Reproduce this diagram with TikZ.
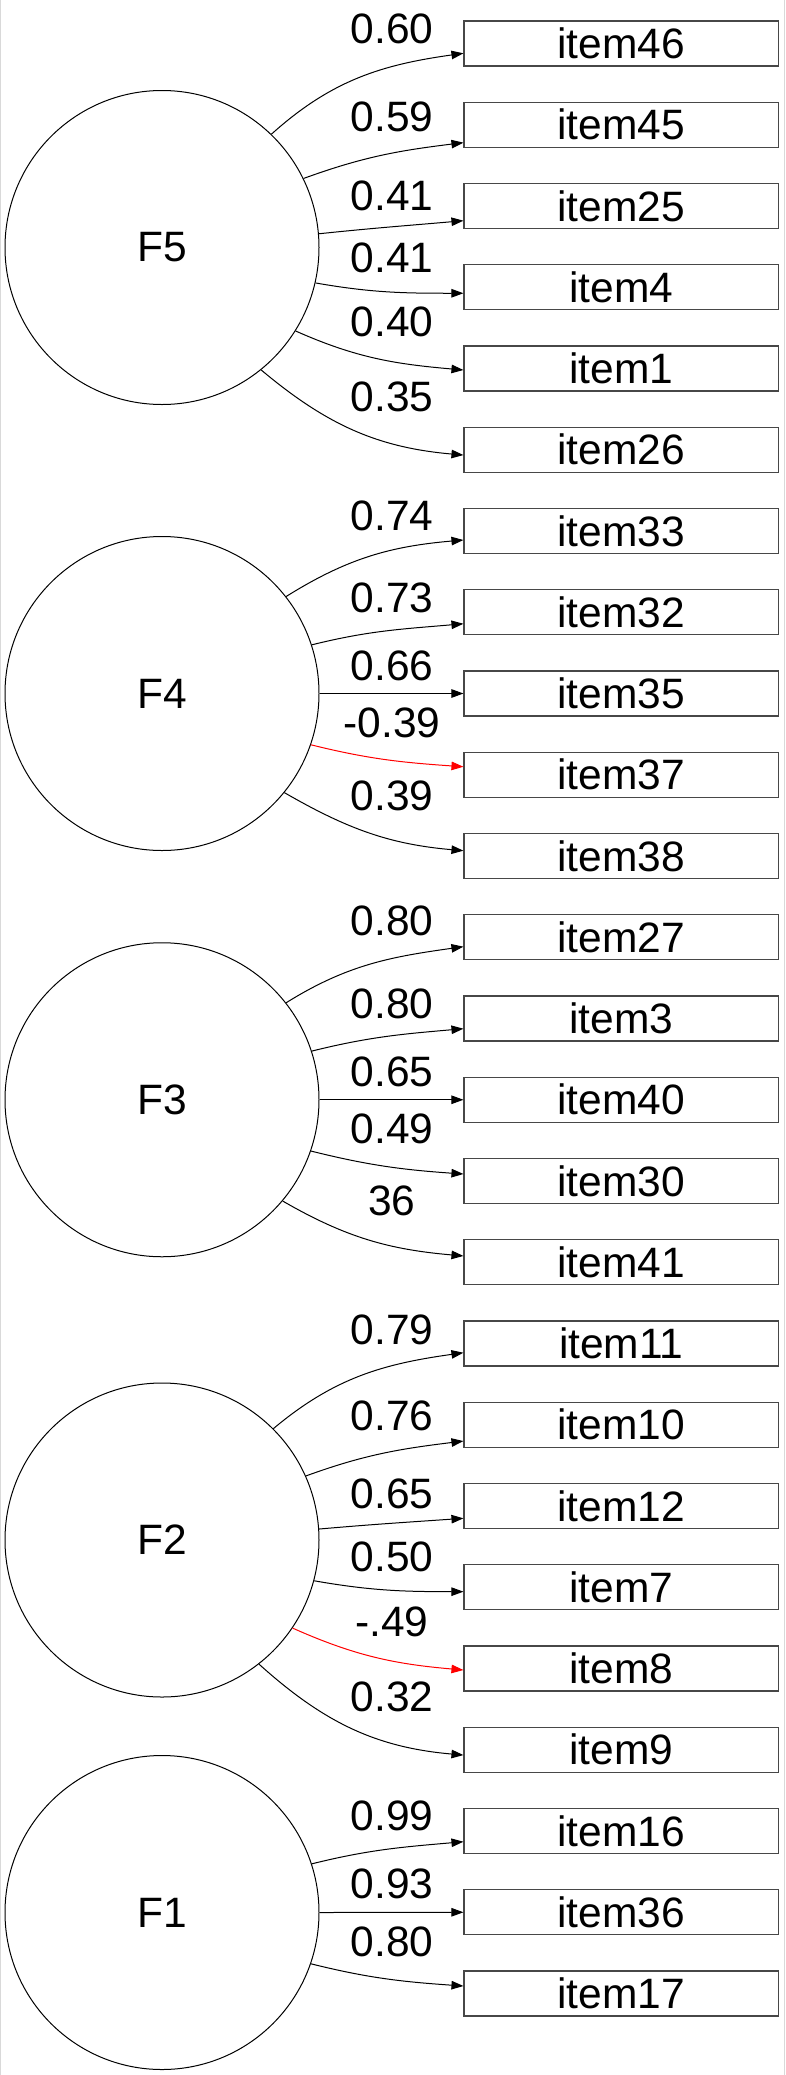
\documentclass[tikz,border=0pt]{standalone}
\usepackage{fontspec}
\setmainfont{Liberation Sans}
\usetikzlibrary{arrows.meta}

\begin{document}
\begin{tikzpicture}[x=1pt,y=1pt,>={Triangle[length=12pt,width=8.5pt]},
  font=\fontsize{42.5}{50}\selectfont,
  fac/.style={draw,circle,line width=1pt,minimum size=314pt,inner sep=0pt},
  itm/.style={draw=black!72,line width=1.1pt,minimum width=314.5pt,minimum height=45pt,inner sep=0pt},
  ld/.style={->,line width=1pt},
  neg/.style={->,line width=1pt,red},
  lbl/.style={anchor=base}]
  \useasboundingbox (0,0) rectangle (785,-2075);
  \draw[black!15,line width=1.2pt] (0.6,0) -- (0.6,-2075);
  \draw[black!15,line width=1.2pt] (784.4,0) -- (784.4,-2075);

  \node[fac] (F5) at (162,-247.5) {F5};
  \node[fac] (F4) at (162,-693.5) {F4};
  \node[fac] (F3) at (162,-1099.75) {F3};
  \node[fac] (F2) at (162,-1540) {F2};
  \node[fac] (F1) at (162,-1912.5) {F1};

  \node[itm] (i46) at (621.25,-43.5) {item46};
  \node[itm] (i45) at (621.25,-124.75) {item45};
  \node[itm] (i25) at (621.25,-206) {item25};
  \node[itm] (i4) at (621.25,-287.25) {item4};
  \node[itm] (i1) at (621.25,-368.5) {item1};
  \node[itm] (i26) at (621.25,-449.75) {item26};
  \node[itm] (i33) at (621.25,-531) {item33};
  \node[itm] (i32) at (621.25,-612.25) {item32};
  \node[itm] (i35) at (621.25,-693.5) {item35};
  \node[itm] (i37) at (621.25,-774.75) {item37};
  \node[itm] (i38) at (621.25,-856) {item38};
  \node[itm] (i27) at (621.25,-937.25) {item27};
  \node[itm] (i3) at (621.25,-1018.5) {item3};
  \node[itm] (i40) at (621.25,-1099.75) {item40};
  \node[itm] (i30) at (621.25,-1181) {item30};
  \node[itm] (i41) at (621.25,-1262.25) {item41};
  \node[itm] (i11) at (621.25,-1343.5) {item11};
  \node[itm] (i10) at (621.25,-1424.75) {item10};
  \node[itm] (i12) at (621.25,-1506) {item12};
  \node[itm] (i7) at (621.25,-1587.25) {item7};
  \node[itm] (i8) at (621.25,-1668.5) {item8};
  \node[itm] (i9) at (621.25,-1749.75) {item9};
  \node[itm] (i16) at (621.25,-1831) {item16};
  \node[itm] (i36) at (621.25,-1912.25) {item36};
  \node[itm] (i17) at (621.25,-1993.5) {item17};

  \draw[ld] (F5.46) to[out=42,in=188] ([yshift=-9.8pt]i46.west);
  \draw[ld] (F5.26) to[out=20,in=187] ([yshift=-17.9pt]i45.west);
  \draw[ld] (F5.5) to[out=6,in=185] ([yshift=-14.7pt]i25.west);
  \draw[ld] (F5.-13) to[out=-10,in=180] ([yshift=-6pt]i4.west);
  \draw[ld] (F5.-32) to[out=-24,in=175] ([yshift=-1.5pt]i1.west);
  \draw[ld] (F5.-51) to[out=-40,in=175] ([yshift=-5.3pt]i26.west);

  \draw[ld] (F4.38) to[out=32,in=185] ([yshift=-9pt]i33.west);
  \draw[ld] (F4.18) to[out=14,in=185] ([yshift=-11.5pt]i32.west);
  \draw[ld] (F4.0) -- (i35.west);
  \draw[neg] (F4.-19) to[out=-14,in=176] ([yshift=8pt]i37.west);
  \draw[ld] (F4.-39) to[out=-30,in=175] ([yshift=5.3pt]i38.west);

  \draw[ld] (F3.38) to[out=32,in=188] ([yshift=-9.4pt]i27.west);
  \draw[ld] (F3.18) to[out=14,in=185] ([yshift=-10.2pt]i3.west);
  \draw[ld] (F3.0) -- (i40.west);
  \draw[ld] (F3.-19) to[out=-14,in=176] ([yshift=7pt]i30.west);
  \draw[ld] (F3.-40) to[out=-30,in=175] ([yshift=6.3pt]i41.west);

  \draw[ld] (F2.45) to[out=40,in=188] ([yshift=-9.2pt]i11.west);
  \draw[ld] (F2.24) to[out=20,in=187] ([yshift=-16.3pt]i10.west);
  \draw[ld] (F2.4) to[out=5,in=184] ([yshift=-12.3pt]i12.west);
  \draw[ld] (F2.-15) to[out=-10,in=180] ([yshift=-4.4pt]i7.west);
  \draw[neg] (F2.-34) to[out=-24,in=175] ([yshift=-1.5pt]i8.west);
  \draw[ld] (F2.-52) to[out=-42,in=175] ([yshift=-5.3pt]i9.west);

  \draw[ld] (F1.18) to[out=14,in=185] ([yshift=-10.7pt]i16.west);
  \draw[ld] (F1.0) -- (i36.west);
  \draw[ld] (F1.-19) to[out=-14,in=176] ([yshift=7.5pt]i17.west);

  \node[lbl] (w46) at (392,-43.3) {0.60};
  \node[lbl] (w45) at (392,-131.7) {0.59};
  \node[lbl] (w25) at (392,-210.7) {0.41};
  \node[lbl] (w4) at (392,-272.7) {0.41};
  \node[lbl] (w1) at (392,-336.7) {0.40};
  \node[lbl] (w26) at (392,-411.7) {0.35};
  \node[lbl] (w33) at (392,-530.7) {0.74};
  \node[lbl] (w32) at (392,-612.7) {0.73};
  \node[lbl] (w35) at (392,-680.7) {0.66};
  \node[lbl] (w37) at (392,-737.3) {-0.39};
  \node[lbl] (w38) at (392,-810) {0.39};
  \node[lbl] (w27) at (392,-935.7) {0.80};
  \node[lbl] (w3) at (392,-1018.3) {0.80};
  \node[lbl] (w40) at (392,-1086) {0.65};
  \node[lbl] (w30) at (392,-1143.3) {0.49};
  \node[lbl] (w41) at (392,-1215) {36};
  \node[lbl] (w11) at (392,-1344.3) {0.79};
  \node[lbl] (w10) at (392,-1430.7) {0.76};
  \node[lbl] (w12) at (392,-1508.3) {0.65};
  \node[lbl] (w7) at (392,-1571.7) {0.50};
  \node[lbl] (w8) at (392,-1636) {-.49};
  \node[lbl] (w9) at (392,-1711.7) {0.32};
  \node[lbl] (w16) at (392,-1830.7) {0.99};
  \node[lbl] (w36) at (392,-1898.3) {0.93};
  \node[lbl] (w17) at (392,-1956.7) {0.80};
\end{tikzpicture}
\end{document}
